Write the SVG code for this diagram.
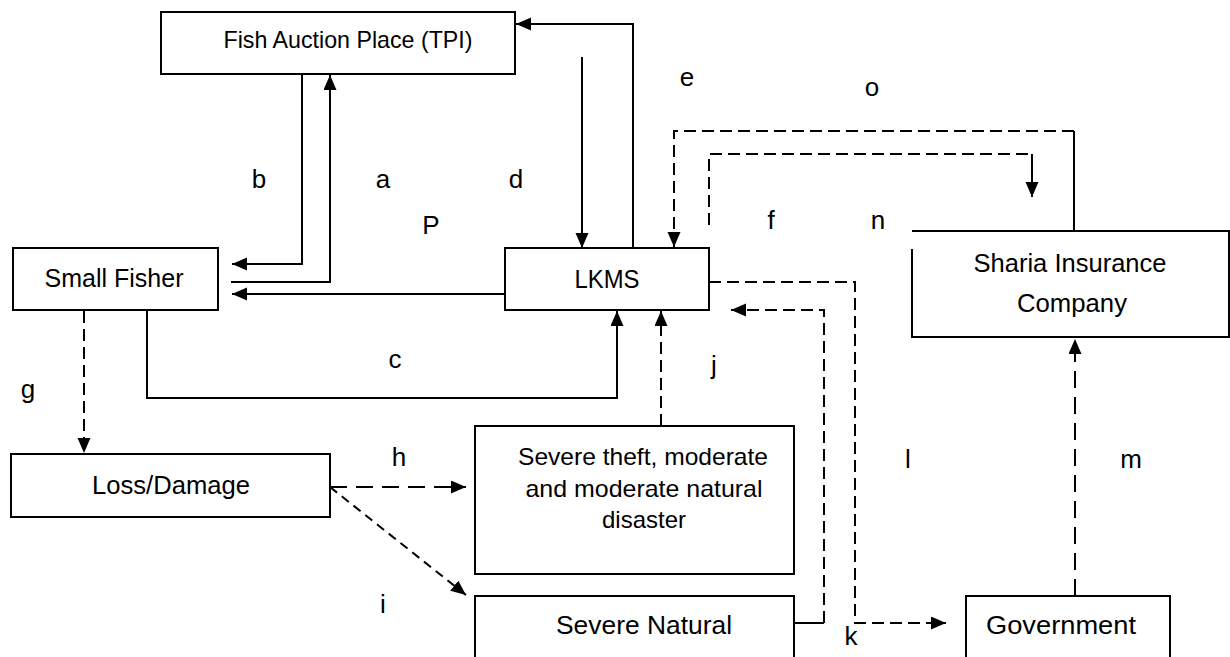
<svg xmlns="http://www.w3.org/2000/svg" width="1230" height="657" viewBox="0 0 1230 657">
<defs>
<style>
.box{fill:#fff;stroke:#000;stroke-width:2}
.t{font-family:"Liberation Sans",Arial,sans-serif;font-size:26px;fill:#000}
.s{font-size:24px}
.c{text-anchor:middle}
.ln{fill:none;stroke:#000;stroke-width:2}
.d{stroke-dasharray:12 6}
.dl{stroke-dasharray:17 9}
.ds{stroke-dasharray:9 6}
</style>
<marker id="ah" markerUnits="userSpaceOnUse" markerWidth="16" markerHeight="14" refX="15" refY="6.5" orient="auto">
<path d="M0,0 L15,6.5 L0,13 Z" fill="#000" stroke="none"/>
</marker>
</defs>
<rect width="1230" height="657" fill="#fff"/>

<g id="connectors">
<path class="ln" d="M302,74 V264 H232" marker-end="url(#ah)"/>
<path class="ln" d="M231,282 H330 V75" marker-end="url(#ah)"/>
<path class="ln" d="M582,57 V248" marker-end="url(#ah)"/>
<path class="ln" d="M633,248 V24 H516" marker-end="url(#ah)"/>
<path class="ln" d="M505,294 H232" marker-end="url(#ah)"/>
<path class="ln" d="M147,310 V398 H617 V311" marker-end="url(#ah)"/>
<path class="ln d" d="M661,426 V311" marker-end="url(#ah)"/>
<path class="ln d" d="M84,311 V453" marker-end="url(#ah)"/>
<path class="ln dl" d="M330,487 H466" marker-end="url(#ah)"/>
<path class="ln ds" d="M330,487 L466,595" marker-end="url(#ah)"/>
<path class="ln" d="M794,623 H824"/>
<path class="ln d" d="M824,623 V310 H731" marker-end="url(#ah)"/>
<path class="ln d" d="M709,282 H855 V623 H946" marker-end="url(#ah)"/>
<path class="ln dl" d="M1075,596 V339" marker-end="url(#ah)"/>
<path class="ln" d="M1074,231 V131"/>
<path class="ln d" d="M1074,131 H674 V247" marker-end="url(#ah)"/>
<path class="ln d" d="M709,225 V154 H1032"/>
<path class="ln" d="M1032,154 V197" marker-end="url(#ah)"/>
</g>

<g id="tpi">
<rect class="box" x="161" y="12" width="354" height="62"/>
<text class="t s c" x="348" y="48" textLength="249" lengthAdjust="spacingAndGlyphs">Fish Auction Place (TPI)</text>
</g>
<g id="small-fisher">
<rect class="box" x="13" y="248" width="205" height="62"/>
<text class="t c" x="114" y="287" textLength="139" lengthAdjust="spacingAndGlyphs">Small Fisher</text>
</g>
<g id="lkms">
<rect class="box" x="505" y="248" width="204" height="62"/>
<text class="t c" x="607" y="288" textLength="65" lengthAdjust="spacingAndGlyphs">LKMS</text>
</g>
<g id="sharia">
<path class="box" d="M912,249 V337 H1229 V231 H912"/>
<text class="t c" x="1070" y="272" textLength="193" lengthAdjust="spacingAndGlyphs">Sharia Insurance</text>
<text class="t c" x="1072" y="312" textLength="110" lengthAdjust="spacingAndGlyphs">Company</text>
</g>
<g id="loss">
<rect class="box" x="11" y="454" width="319" height="63"/>
<text class="t c" x="171" y="494" textLength="158" lengthAdjust="spacingAndGlyphs">Loss/Damage</text>
</g>
<g id="severe-theft">
<rect class="box" x="475" y="426" width="319" height="148"/>
<text class="t s c" x="643" y="465" textLength="250" lengthAdjust="spacingAndGlyphs">Severe theft, moderate</text>
<text class="t s c" x="644" y="497" textLength="237" lengthAdjust="spacingAndGlyphs">and moderate natural</text>
<text class="t s c" x="644" y="528" textLength="84" lengthAdjust="spacingAndGlyphs">disaster</text>
</g>
<g id="severe-natural">
<rect class="box" x="475" y="596" width="319" height="80"/>
<text class="t c" x="644" y="634" textLength="176" lengthAdjust="spacingAndGlyphs">Severe Natural</text>
</g>
<g id="government">
<rect class="box" x="966" y="596" width="204" height="80"/>
<text class="t c" x="1061" y="634" textLength="150" lengthAdjust="spacingAndGlyphs">Government</text>
</g>

<g id="labels">
<text class="t c" x="259" y="188">b</text>
<text class="t c" x="383" y="188">a</text>
<text class="t c" x="516" y="188">d</text>
<text class="t c" x="431" y="234">P</text>
<text class="t c" x="687" y="86">e</text>
<text class="t c" x="872" y="96">o</text>
<text class="t c" x="771" y="229">f</text>
<text class="t c" x="878" y="229">n</text>
<text class="t c" x="395" y="368">c</text>
<text class="t c" x="714" y="374">j</text>
<text class="t c" x="28" y="398">g</text>
<text class="t c" x="399" y="466">h</text>
<text class="t c" x="908" y="468">l</text>
<text class="t c" x="1131" y="468">m</text>
<text class="t c" x="383" y="613">i</text>
<text class="t c" x="851" y="645">k</text>
</g>
</svg>
